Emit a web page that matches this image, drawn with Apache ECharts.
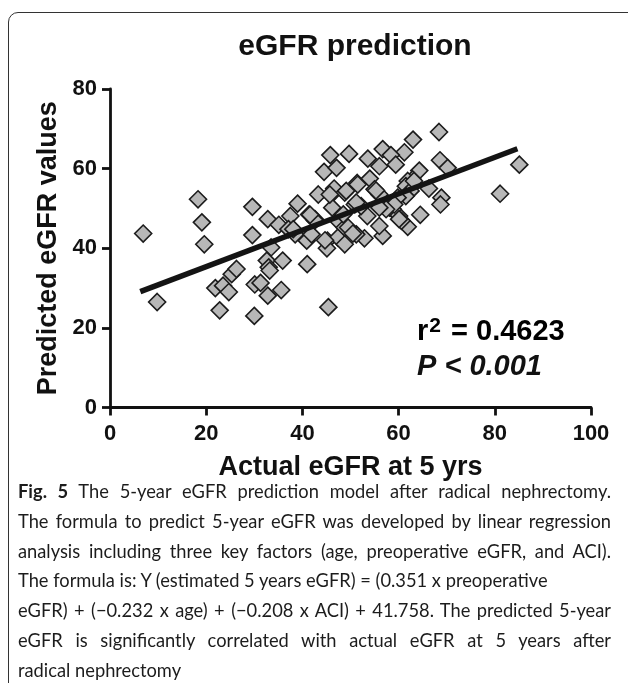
<!DOCTYPE html>
<html>
<head>
<meta charset="utf-8">
<script src="https://cdn.jsdelivr.net/npm/echarts@6/dist/echarts.min.js"></script>
<style>
  html, body { margin: 0; padding: 0; background: #fff; width: 628px; height: 683px; overflow: hidden; }
  #frame { position: absolute; left: 8px; top: 12px; width: 700px; height: 700px; border: 1.5px solid #333; border-radius: 10px; box-sizing: border-box; }
  #chart { position: absolute; left: 0; top: 0; width: 628px; height: 683px; }
  #caption { position: absolute; left: 18px; top: 477px; width: 593px; font-family: Lato, "Open Sans", sans-serif; font-size: 18.3px; line-height: 29.8px; color: #1c1c1c; }
  #caption div { white-space: nowrap; }
  #caption .j { text-align: justify; text-align-last: justify; }
  #caption b { font-weight: 700; }
</style>
</head>
<body>
<div id="frame"></div>
<div id="chart"></div>
<div id="caption">
  <div class="j"><b>Fig. 5</b> The 5-year eGFR prediction model after radical nephrectomy.</div>
  <div class="j">The formula to predict 5-year eGFR was developed by linear regression</div>
  <div class="j">analysis including three key factors (age, preoperative eGFR, and ACI).</div>
  <div>The formula is: Y (estimated 5 years eGFR) = (0.351 x preoperative</div>
  <div class="j">eGFR) + (−0.232 x age) + (−0.208 x ACI) + 41.758. The predicted 5-year</div>
  <div class="j">eGFR is significantly correlated with actual eGFR at 5 years after</div>
  <div>radical nephrectomy</div>
</div>
<script>
// Actual eGFR at 5 yrs (x) and predicted eGFR (y)
const actualEGFR = [
  6.9, 9.8, 18.3, 19.1, 19.6, 22.8, 21.9, 23.5, 24.7, 25.3,
  26.3, 29.6, 29.6, 30.0, 30.1, 31.3, 32.8, 32.8, 33.5, 32.6,
  33.0, 33.2, 35.6, 35.9, 35.1, 37.5, 39.0, 37.1, 38.5, 41.0,
  40.9, 41.4, 42.6, 41.9, 43.3, 44.5, 45.8, 47.1, 46.0, 46.6,
  46.2, 45.4, 45.2, 45.1, 47.4, 47.4, 48.8, 49.7, 48.8, 48.8,
  68.4, 63.0, 61.2, 56.7, 58.4, 59.4, 56.0, 53.6, 68.6, 70.2,
  85.1, 81.1, 64.3, 62.9, 61.9, 66.3, 68.9, 68.7, 64.5, 61.9,
  60.1, 60.6, 58.8, 58.1, 56.7, 56.0, 52.9, 53.5, 51.2, 49.5,
  51.4, 54.0, 55.0, 56.0, 49.1, 50.9, 52.2, 61.5, 62.5, 61.5,
  59.8, 59.1, 57.4, 45.7, 51.5, 63.2, 42.6, 48.5, 51.2, 56.0,
  60.1, 50.5, 44.7, 38.1, 55.3, 41.6
];
const predictedEGFR = [
  43.7, 26.5, 52.3, 46.5, 41.0, 24.4, 30.0, 30.6, 29.0, 33.5,
  34.8, 50.4, 43.3, 23.0, 30.9, 31.3, 28.1, 47.3, 40.2, 36.9,
  35.2, 34.4, 29.5, 36.9, 45.9, 48.1, 51.2, 44.8, 43.5, 36.0,
  41.9, 48.5, 47.3, 43.5, 53.5, 59.2, 63.4, 60.2, 53.5, 55.0,
  50.2, 25.2, 41.9, 40.0, 42.7, 46.9, 54.0, 63.7, 41.0, 45.2,
  69.2, 67.3, 64.1, 64.9, 63.4, 61.0, 60.6, 62.5, 62.1, 60.2,
  61.0, 53.7, 59.5, 57.3, 56.9, 55.0, 52.7, 51.0, 48.4, 45.4,
  48.1, 46.9, 49.8, 50.2, 43.1, 45.6, 42.5, 48.1, 43.5, 45.2,
  56.4, 57.5, 54.8, 53.5, 54.4, 51.0, 50.6, 55.6, 54.4, 53.1,
  52.7, 51.0, 49.8, 53.5, 56.0, 56.9, 47.0, 48.5, 51.5, 50.2,
  47.3, 43.7, 42.0, 44.8, 54.5, 48.4
];
// Regression line end points
const fitX = [6.3, 84.7];
const fitY = [29.1, 65.0];
const xTicks = [0, 20, 40, 60, 80, 100];
const yTicks = [0, 20, 40, 60, 80];

const FONT = '"Liberation Sans", Arial, sans-serif';
const chart = echarts.init(document.getElementById('chart'), null, { renderer: 'canvas' });
const points = actualEGFR.map((x, i) => [x, predictedEGFR[i]]);
const fit = fitX.map((x, i) => [x, fitY[i]]);

chart.setOption({
  animation: false,
  backgroundColor: 'transparent',
  title: {
    text: 'eGFR prediction',
    left: 350, top: 27, textAlign: 'center',
    textStyle: { fontFamily: FONT, fontWeight: 'bold', fontSize: 30, color: '#111' }
  },
  grid: { left: 110, top: 89, width: 481, height: 318.5, containLabel: false, outerBoundsMode: 'none' },
  xAxis: {
    type: 'value', min: xTicks[0], max: xTicks[xTicks.length - 1], interval: 20,
    name: 'Actual eGFR at 5 yrs', nameLocation: 'middle', nameGap: 47,
    nameTextStyle: { fontFamily: FONT, fontWeight: 'bold', fontSize: 27, color: '#111' },
    axisLine: { show: true, onZero: false, lineStyle: { color: '#111', width: 2.8 } },
    axisTick: { show: true, length: 8, inside: false, lineStyle: { color: '#111', width: 2.8 } },
    axisLabel: { margin: 15, fontFamily: FONT, fontWeight: 'bold', fontSize: 22, color: '#111' },
    splitLine: { show: false }
  },
  yAxis: {
    type: 'value', min: yTicks[0], max: yTicks[yTicks.length - 1], interval: 20,
    name: 'Predicted eGFR values', nameLocation: 'middle', nameGap: 45, nameRotate: 90,
    nameTextStyle: { fontFamily: FONT, fontWeight: 'bold', fontSize: 27, color: '#111' },
    axisLine: { show: true, onZero: false, lineStyle: { color: '#111', width: 2.8 } },
    axisTick: { show: true, length: 8, inside: false, lineStyle: { color: '#111', width: 2.8 } },
    axisLabel: { margin: 13, fontFamily: FONT, fontWeight: 'bold', fontSize: 22, color: '#111' },
    splitLine: { show: false }
  },
  graphic: [
    {
      type: 'text', left: 417, top: 316,
      style: {
        text: '{a|r}{s|2}{a| = 0.4623}',
        rich: {
          a: { fontFamily: FONT, fontWeight: 'bold', fontSize: 29, color: '#111' },
          s: { fontFamily: FONT, fontWeight: 'bold', fontSize: 21, color: '#111', verticalAlign: 'top', padding: [0, 2, 10, 1] }
        }
      }
    },
    {
      type: 'text', left: 417, top: 352,
      style: {
        text: 'P < 0.001',
        font: 'italic bold 29px ' + FONT,
        fill: '#111'
      }
    }
  ],
  series: [
    {
      type: 'scatter',
      data: points,
      symbol: 'diamond',
      symbolSize: 17,
      itemStyle: { color: '#b7b7b7', borderColor: '#1c1c1c', borderWidth: 1.6, opacity: 1 },
      z: 2
    },
    {
      type: 'line',
      data: fit,
      symbol: 'none',
      lineStyle: { color: '#141414', width: 5.5 },
      z: 3
    }
  ]
});
</script>
</body>
</html>
